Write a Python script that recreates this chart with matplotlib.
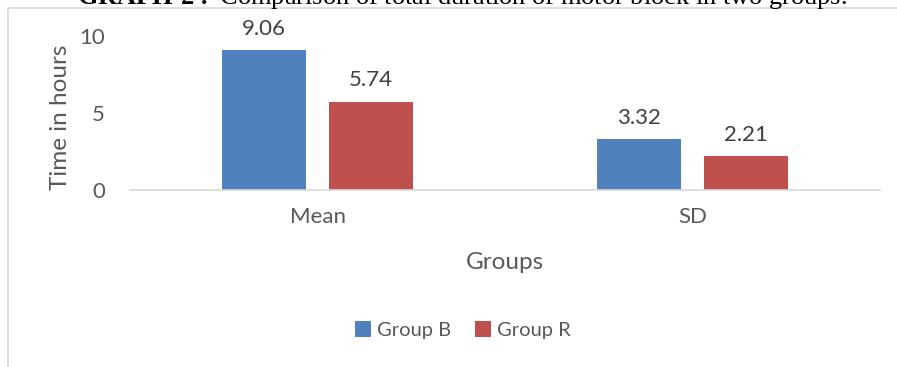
import matplotlib.pyplot as plt
from matplotlib.patches import Rectangle
import numpy as np

categories = ["Mean", "SD"]
group_b = [9.06, 3.32]
group_r = [5.74, 2.21]
series_names = ["Group B", "Group R"]

W, H = 897, 367
plt.rcParams['font.family'] = ['Lato', 'DejaVu Sans']
plt.rcParams['mathtext.fontset'] = 'custom'
plt.rcParams['mathtext.rm'] = 'Liberation Serif'
plt.rcParams['mathtext.bf'] = 'Liberation Serif:bold'
fig = plt.figure(figsize=(W / 100, H / 100), dpi=100)

# chart frame (only top/left visible in the source)
fig.patches.append(Rectangle((8 / W, -0.1), 1.2, 1 - 8 / H + 0.1, transform=fig.transFigure,
                             fill=False, edgecolor='#D9D9D9', lw=1.2))

# cut-off caption above the chart
fig.text(462 / W, 1 - 4 / H, r"$\bf{GRAPH\ 2:}$ Comparison of total duration of motor block in two groups.",
         ha='center', va='baseline', fontsize=19, family='Liberation Serif', color='black')

ax = fig.add_axes([130 / W, 1 - 190 / H, 750 / W, 154 / H])
x = np.arange(len(categories))
bw = 0.224
b1 = ax.bar(x - 0.143, group_b, bw, color='#4F81BD', label=series_names[0])
b2 = ax.bar(x + 0.143, group_r, bw, color='#C0504D', label=series_names[1])

for bars in (b1, b2):
    for rect in bars:
        ax.annotate(f"{rect.get_height():.2f}", (rect.get_x() + rect.get_width() / 2, rect.get_height()),
                    xytext=(0, 8), textcoords='offset points', ha='center', va='bottom',
                    fontsize=16, color='#404040', annotation_clip=False)

ax.set_xlim(-0.5, 1.5)
ax.set_ylim(0, 10)
ax.set_yticks([0, 5, 10])
ax.set_xticks(x)
ax.set_xticklabels(categories)
ax.tick_params(axis='both', length=0, labelsize=16, colors='#595959')
ax.tick_params(axis='y', pad=18)
ax.tick_params(axis='x', pad=12)
for s in ['top', 'right', 'left']:
    ax.spines[s].set_visible(False)
ax.spines['bottom'].set_color('#D9D9D9')
ax.spines['bottom'].set_linewidth(1.2)

ax.set_ylabel("Time in hours", fontsize=17.5, color='#595959', va='center')
ax.yaxis.set_label_coords(-70 / 750, 0.47)
ax.set_xlabel("Groups", fontsize=17.5, color='#595959', labelpad=18)

ax.legend(loc='center', bbox_to_anchor=(463 / W, 1 - 330 / H), bbox_transform=fig.transFigure,
          ncol=2, frameon=False, fontsize=14.5, handlelength=0.8, handleheight=0.8,
          handletextpad=0.3, columnspacing=1.2, labelcolor='#595959')

fig.savefig("out.png", dpi=100)
